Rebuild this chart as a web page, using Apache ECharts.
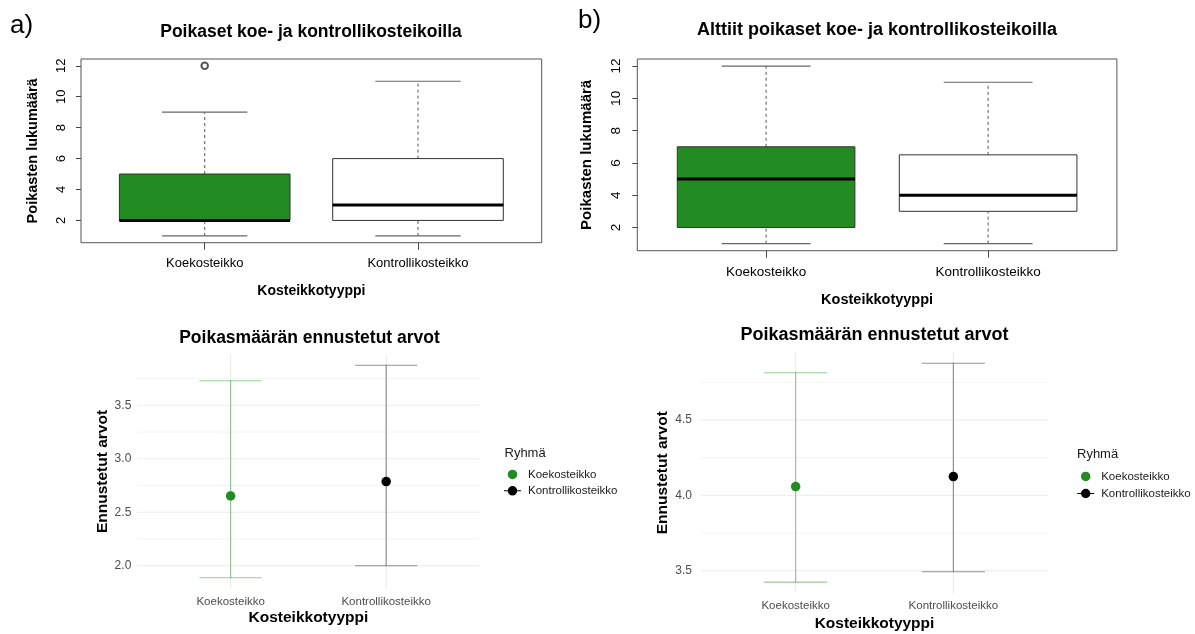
<!DOCTYPE html>
<html><head><meta charset="utf-8">
<script src="https://cdn.jsdelivr.net/npm/echarts@6/dist/echarts.min.js"></script>
<style>html,body{margin:0;padding:0;background:#fff}#c{width:1195px;height:634px}</style>
</head><body><div id="c"></div>
<script>
// ---------- data ----------
const categories = ['Koekosteikko', 'Kontrollikosteikko'];
// box plot statistics per category: [min, Q1, median, Q3, max]
const boxStatsA = [[1, 2, 2, 5, 9], [1, 2, 3, 6, 11]];
const outliersA = [[1, 12]];            // [category number, value]
const boxStatsB = [[1, 2, 5, 7, 12], [1, 3, 4, 6.5, 11]];
const outliersB = [];
const topTicks = [2, 4, 6, 8, 10, 12];

// predicted values with confidence intervals
const estimateC = [2.653, 2.787];
const lowerC = [1.887, 2.0];
const upperC = [3.73, 3.875];
const majorTicksC = [2.0, 2.5, 3.0, 3.5];
const minorTicksC = [2.25, 2.75, 3.25, 3.75];

const estimateD = [4.058, 4.124];
const lowerD = [3.424, 3.493];
const upperD = [4.813, 4.876];
const majorTicksD = [3.5, 4.0, 4.5];
const minorTicksD = [3.75, 4.25, 4.75];

const groupColors = ['#228B22', '#000000'];
const boxFills = ['#228B22', '#FFFFFF'];

// ---------- helpers ----------
const FONT = 'Liberation Sans';
function padRange(vals, f) {
  const lo = Math.min(...vals), hi = Math.max(...vals), d = hi - lo;
  return [lo - d * f, hi + d * f];
}
const rangeA = padRange(boxStatsA.flat().concat(outliersA.map(o => o[1])), 0.04);
const rangeB = padRange(boxStatsB.flat().concat(outliersB.map(o => o[1])), 0.04);
const rangeC = padRange(lowerC.concat(upperC, estimateC), 0.05);
const rangeD = padRange(lowerD.concat(upperD, estimateD), 0.05);

function topX(gi, fs, margin, nameGap, nameFs) {
  return {
    type: 'value', gridIndex: gi, min: 0.42, max: 2.58,
    axisLine: {show: false}, splitLine: {show: false},
    axisTick: {show: true, customValues: [1, 2], length: 7, lineStyle: {color: '#444'}},
    axisLabel: {customValues: [1, 2], formatter: v => categories[Math.round(v) - 1],
      color: '#000', fontSize: fs, margin: margin, fontFamily: FONT},
    name: 'Kosteikkotyyppi', nameLocation: 'middle', nameGap: nameGap,
    nameTextStyle: {fontWeight: 'bold', fontSize: nameFs, color: '#000', fontFamily: FONT}
  };
}
function topY(gi, range, fs, margin, nameGap, nameFs) {
  return {
    type: 'value', gridIndex: gi, min: range[0], max: range[1],
    axisLine: {show: false}, splitLine: {show: false},
    axisTick: {show: true, customValues: topTicks, length: 5, lineStyle: {color: '#444'}},
    axisLabel: {customValues: topTicks, rotate: 90, color: '#000', fontSize: fs, margin: margin, fontFamily: FONT},
    name: 'Poikasten lukumäärä', nameLocation: 'middle', nameGap: nameGap,
    nameTextStyle: {fontWeight: 'bold', fontSize: nameFs, color: '#000', fontFamily: FONT}
  };
}
function botX(gi, fs, margin, nameGap, nameFs) {
  return {
    type: 'value', gridIndex: gi, min: 0.4, max: 2.6,
    axisLine: {show: false}, splitLine: {show: false}, axisTick: {show: false},
    axisLabel: {customValues: [1, 2], formatter: v => categories[Math.round(v) - 1],
      color: '#4D4D4D', fontSize: fs, margin: margin, fontFamily: FONT},
    name: 'Kosteikkotyyppi', nameLocation: 'middle', nameGap: nameGap,
    nameTextStyle: {fontWeight: 'bold', fontSize: nameFs, color: '#000', fontFamily: FONT}
  };
}
function botY(gi, range, ticks, fs, margin, nameGap, nameFs) {
  return {
    type: 'value', gridIndex: gi, min: range[0], max: range[1],
    axisLine: {show: false}, splitLine: {show: false}, axisTick: {show: false},
    axisLabel: {customValues: ticks, formatter: v => v.toFixed(1), color: '#4D4D4D',
      fontSize: fs, margin: margin, fontFamily: FONT},
    name: 'Ennustetut arvot', nameLocation: 'middle', nameGap: nameGap,
    nameTextStyle: {fontWeight: 'bold', fontSize: nameFs, color: '#000', fontFamily: FONT}
  };
}

function boxSeries(ai, stats) {
  return {
    type: 'custom', xAxisIndex: ai, yAxisIndex: ai, z: 2,
    data: stats.map((s, i) => [i + 1].concat(s, [i])),
    encode: {x: 0, y: [1, 2, 3, 4, 5]},
    renderItem: (params, api) => {
      const x = api.value(0), mn = api.value(1), q1 = api.value(2), md = api.value(3),
            q3 = api.value(4), mx = api.value(5), gi = api.value(6);
      const P = (a, b) => api.coord([a, b]);
      const line = (a, b, style) => ({type: 'line', shape: {x1: a[0], y1: a[1], x2: b[0], y2: b[1]}, style: style});
      const dash = {stroke: '#555', lineWidth: 1, lineDash: [3, 3]};
      const solid = {stroke: '#666', lineWidth: 1.2};
      const tl = P(x - 0.4, q3), br = P(x + 0.4, q1);
      return {type: 'group', children: [
        line(P(x, q3), P(x, mx), dash),
        line(P(x, mn), P(x, q1), dash),
        line(P(x - 0.2, mx), P(x + 0.2, mx), solid),
        line(P(x - 0.2, mn), P(x + 0.2, mn), solid),
        {type: 'rect', shape: {x: tl[0], y: tl[1], width: br[0] - tl[0], height: br[1] - tl[1]},
          style: {fill: boxFills[gi], stroke: '#333', lineWidth: 1}},
        line(P(x - 0.4, md), P(x + 0.4, md), {stroke: '#000', lineWidth: 3})
      ]};
    }
  };
}
function outlierSeries(ai, pts) {
  return {type: 'scatter', xAxisIndex: ai, yAxisIndex: ai, z: 3, data: pts,
    symbol: 'emptyCircle', symbolSize: 6.5, itemStyle: {color: '#555', borderWidth: 0.8, opacity: 1}};
}
function gridLineSeries(ai, major, minor) {
  const data = major.map(v => [1.5, v, 1]).concat(minor.map(v => [1.5, v, 0]),
    categories.map((c, i) => [i + 1, major[0], 2]));
  return {
    type: 'custom', xAxisIndex: ai, yAxisIndex: ai, z: 0, silent: true,
    data: data, encode: {x: 0, y: 1},
    renderItem: (params, api) => {
      const cs = params.coordSys, kind = api.value(2);
      const p = api.coord([api.value(0), api.value(1)]);
      const style = {stroke: '#EBEBEB', lineWidth: kind === 0 ? 0.6 : 1.1};
      if (kind === 2) return {type: 'line', shape: {x1: p[0], y1: cs.y, x2: p[0], y2: cs.y + cs.height}, style: style};
      return {type: 'line', shape: {x1: cs.x, y1: p[1], x2: cs.x + cs.width, y2: p[1]}, style: style};
    }
  };
}
function errorSeries(ai, lo, hi) {
  return {
    type: 'custom', xAxisIndex: ai, yAxisIndex: ai, z: 2,
    data: lo.map((l, i) => [i + 1, l, hi[i], i]),
    encode: {x: 0, y: [1, 2]},
    renderItem: (params, api) => {
      const x = api.value(0), l = api.value(1), h = api.value(2), gi = api.value(3);
      const P = (a, b) => api.coord([a, b]);
      const c = gi === 0 ? 'rgba(34,139,34,0.45)' : 'rgba(0,0,0,0.42)';
      const st = {stroke: c, lineWidth: 1.1};
      const ln = (a, b) => ({type: 'line', shape: {x1: a[0], y1: a[1], x2: b[0], y2: b[1]}, style: st});
      return {type: 'group', children: [
        ln(P(x, l), P(x, h)),
        ln(P(x - 0.2, l), P(x + 0.2, l)),
        ln(P(x - 0.2, h), P(x + 0.2, h))
      ]};
    }
  };
}
function pointSeries(ai, est) {
  return categories.map((name, i) => ({
    type: 'scatter', name: name, xAxisIndex: ai, yAxisIndex: ai, z: 4,
    data: [[i + 1, est[i]]], symbol: 'circle', symbolSize: 9.5,
    itemStyle: {color: groupColors[i], opacity: 1}
  }));
}
const keyPath = 'path://M0,4.3 L17,4.3 L17,5.2 L0,5.2 Z M13.25,4.75 A4.75,4.75 0 1 1 3.75,4.75 A4.75,4.75 0 1 1 13.25,4.75 Z';
function legendAt(left, top, gap) {
  return {
    left: left, top: top, orient: 'vertical', itemWidth: 17, itemHeight: 9.5, itemGap: gap,
    selectedMode: false, padding: 0,
    data: [{name: categories[0], icon: 'circle'}, {name: categories[1], icon: keyPath}],
    textStyle: {fontSize: 11.5, lineHeight: 12, color: '#1a1a1a', fontFamily: FONT, padding: [0, 0, 0, 2]}
  };
}
function titleAt(text, left, top, fs, bold, align) {
  return {text: text, left: left, top: top, padding: 0, textAlign: align || 'left',
    textStyle: {fontSize: fs, fontWeight: bold ? 'bold' : 'normal', color: '#000', fontFamily: FONT}};
}

const option = {
  backgroundColor: '#fff',
  animation: false,
  textStyle: {fontFamily: FONT},
  title: [
    titleAt('a)', 10, 13, 26, false),
    titleAt('b)', 578, 8, 26, false),
    titleAt('Poikaset koe- ja kontrollikosteikoilla', 311, 23, 17.5, true, 'center'),
    titleAt('Alttiit poikaset koe- ja kontrollikosteikoilla', 877, 21, 18, true, 'center'),
    titleAt('Poikasmäärän ennustetut arvot', 309.5, 329.5, 17.5, true, 'center'),
    titleAt('Poikasmäärän ennustetut arvot', 874.5, 326, 18, true, 'center'),
    {text: 'Ryhmä', left: 504.5, top: 446.5, padding: 0, textStyle: {fontSize: 13, fontWeight: 'normal', color: '#1a1a1a', fontFamily: FONT}},
    {text: 'Ryhmä', left: 1077, top: 447.5, padding: 0, textStyle: {fontSize: 13, fontWeight: 'normal', color: '#1a1a1a', fontFamily: FONT}}
  ],
  legend: [legendAt(504, 468.4, 4.4), legendAt(1077.2, 470.4, 5.1)],
  grid: [
    {left: 81, top: 59, width: 460.7, height: 183.7, show: true, borderColor: '#555', borderWidth: 1, backgroundColor: 'transparent'},
    {left: 637.3, top: 59, width: 479.6, height: 191.7, show: true, borderColor: '#555', borderWidth: 1, backgroundColor: 'transparent'},
    {left: 137.3, top: 354.6, width: 342.2, height: 233.8},
    {left: 701, top: 352.3, width: 347, height: 240.8}
  ],
  xAxis: [
    topX(0, 13, 14.4, 41, 14),
    topX(1, 13.5, 14.9, 42, 14.5),
    botX(2, 11.5, 7, 21.6, 15.5),
    botX(3, 11.5, 7, 22.4, 15.5)
  ],
  yAxis: [
    topY(0, rangeA, 13, 13, 40.5, 14.5),
    topY(1, rangeB, 13.5, 14.5, 43, 15),
    botY(2, rangeC, majorTicksC, 12, 6, 26, 15.5),
    botY(3, rangeD, majorTicksD, 12, 9, 30, 15.5)
  ],
  series: [
    boxSeries(0, boxStatsA),
    outlierSeries(0, outliersA),
    boxSeries(1, boxStatsB),
    outlierSeries(1, outliersB),
    gridLineSeries(2, majorTicksC, minorTicksC),
    errorSeries(2, lowerC, upperC),
    ...pointSeries(2, estimateC),
    gridLineSeries(3, majorTicksD, minorTicksD),
    errorSeries(3, lowerD, upperD),
    ...pointSeries(3, estimateD)
  ]
};
const chart = echarts.init(document.getElementById('c'), null, {renderer: 'canvas'});
chart.setOption(option);
</script>
</body></html>
